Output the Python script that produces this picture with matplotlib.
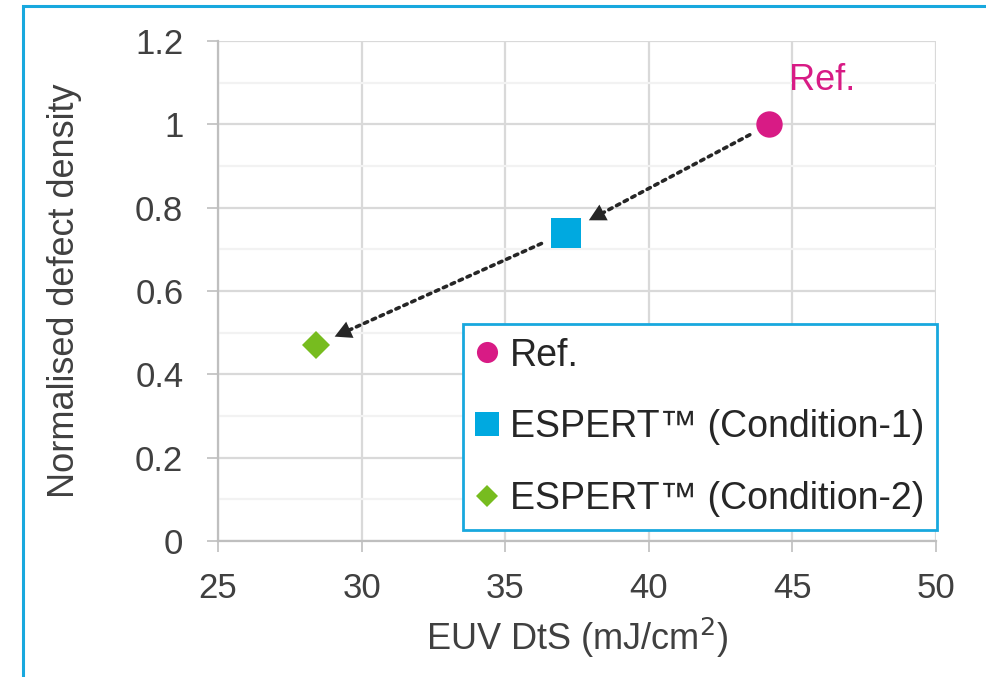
import matplotlib.pyplot as plt
from matplotlib.patches import Rectangle
from matplotlib.ticker import MultipleLocator

plt.rcParams['font.family'] = ['Liberation Sans', 'DejaVu Sans']

# data
labels = ['Ref.', 'ESPERT\u2122 (Condition-1)', 'ESPERT\u2122 (Condition-2)']
dts = [44.2, 37.1, 28.4]
defect_density = [1.0, 0.74, 0.47]
colors = ['#D81B85', '#00A9E0', '#77BC1F']
markers = ['o', 's', 'D']
sizes = [19, 21, 14]

text_color = '#404040'

fig = plt.figure(figsize=(9.86, 6.77), dpi=100)
ax = fig.add_axes([0.2211, 0.2009, 0.7282, 0.7385])

# outer cyan frame (partly cropped in the original)
fig.add_artist(Rectangle((23 / 986, -0.1), 1.2, 1.1 - 6 / 677, transform=fig.transFigure,
                         fill=False, edgecolor='#18A8DE', linewidth=2.2, clip_on=False))

for x, y, c, m, s, lab in zip(dts, defect_density, colors, markers, sizes, labels):
    ax.plot([x], [y], linestyle='none', marker=m, markersize=s, color=c,
            markeredgewidth=0, label=lab, zorder=5)

# dotted arrows Ref -> Cond-1 -> Cond-2 (dotted shaft + solid head)
shrinks = [(16, 19), (19, 15)]
head_len = 12
for i in range(2):
    start = (dts[i], defect_density[i])
    end = (dts[i + 1], defect_density[i + 1])
    ax.annotate('', xy=end, xytext=start,
                arrowprops=dict(arrowstyle='-', color='#262626', linewidth=2.6,
                                linestyle=(0, (1, 1.4)),
                                shrinkA=shrinks[i][0], shrinkB=shrinks[i][1] + head_len - 1),
                zorder=4)
    ax.annotate('', xy=end, xytext=start,
                arrowprops=dict(arrowstyle='-|>,head_length=0.6,head_width=0.32',
                                color='#262626', linewidth=0,
                                shrinkA=shrinks[i][0], shrinkB=shrinks[i][1], mutation_scale=20),
                zorder=4)

ax.text(44.88, 1.106, 'Ref.', color=colors[0], fontsize=26, va='center', ha='left')

ax.set_xlim(25, 50)
ax.set_ylim(0, 1.2)
ax.xaxis.set_major_locator(MultipleLocator(5))
ax.yaxis.set_minor_locator(MultipleLocator(0.1))
ax.set_yticks([0, 0.2, 0.4, 0.6, 0.8, 1.0, 1.2])
ax.set_yticklabels(['0', '0.2', '0.4', '0.6', '0.8', '1', '1.2'])

ax.grid(which='major', color='#D9D9D9', linewidth=1.6)
ax.grid(which='minor', axis='y', color='#F2F2F2', linewidth=1.6)
ax.set_axisbelow(True)

for side in ['top', 'right']:
    ax.spines[side].set_visible(False)
for side in ['left', 'bottom']:
    ax.spines[side].set_color('#BFBFBF')
    ax.spines[side].set_linewidth(1.6)

ax.tick_params(which='major', direction='out', length=8, width=1.2, color='#BFBFBF',
               labelsize=25, labelcolor=text_color)
ax.tick_params(axis='y', which='major', pad=17)
ax.tick_params(axis='x', which='major', pad=14)
ax.tick_params(which='minor', length=0)

ax.set_xlabel('EUV DtS (mJ/cm$^2$)', fontsize=26, color=text_color, labelpad=8)
ax.set_ylabel('Normalised defect density', fontsize=26, color=text_color, labelpad=38)

leg = ax.legend(handles=[plt.Line2D([], [], linestyle='none', marker=m, color=c, markersize=s * 0.8,
                                    markeredgewidth=0) for m, c, s in zip(markers, colors, sizes)],
                labels=labels, loc='lower left', bbox_to_anchor=(0.341, 0.022, 0.66, 0.406),
                mode='expand', fontsize=27, frameon=True, fancybox=False, framealpha=1,
                edgecolor='#18A8DE', handlelength=0.6, handletextpad=0.3, labelspacing=0.95,
                borderpad=0.35, borderaxespad=0)
leg.get_frame().set_linewidth(2)
for t in leg.get_texts():
    t.set_color('#262626')

fig.savefig('out.png', dpi=100)
